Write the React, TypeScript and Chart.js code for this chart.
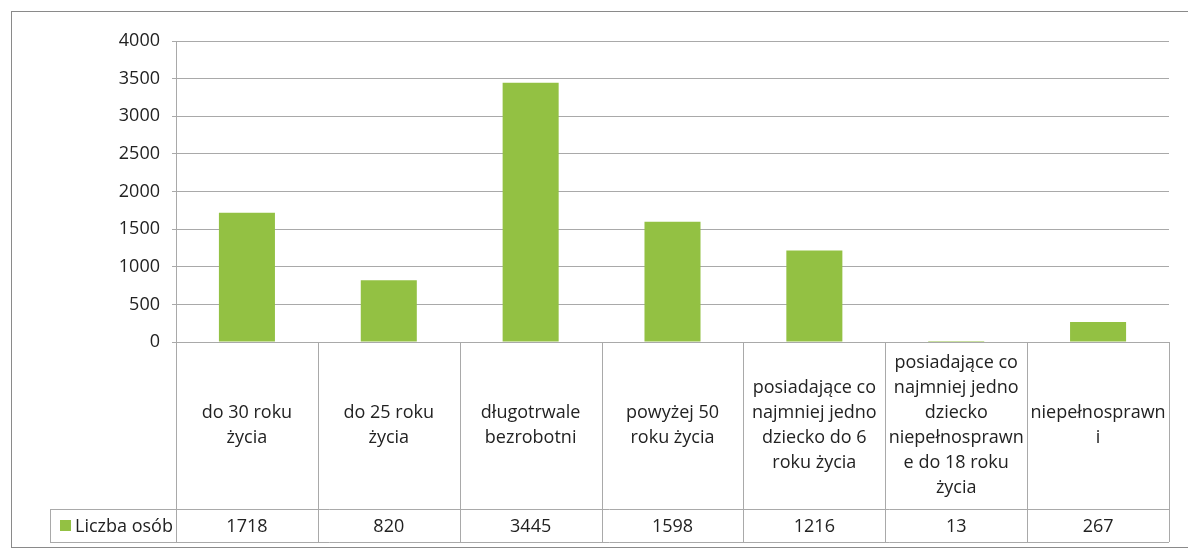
import React, { useEffect, useRef } from 'react';
import { Chart, registerables } from 'chart.js';

Chart.register(...registerables);

const categories: string[][] = [
  ['do 30 roku', 'życia'],
  ['do 25 roku', 'życia'],
  ['długotrwale', 'bezrobotni'],
  ['powyżej 50', 'roku życia'],
  ['posiadające co', 'najmniej jedno', 'dziecko do 6', 'roku życia'],
  ['posiadające co', 'najmniej jedno', 'dziecko', 'niepełnosprawn', 'e do 18 roku', 'życia'],
  ['niepełnosprawn', 'i'],
];
const seriesName = 'Liczba osób';
const values: number[] = [1718, 820, 3445, 1598, 1216, 13, 267];
const yMin = 0;
const yMax = 4000;
const yStep = 500;

const FONT = '"Open Sans", sans-serif';
const TEXT = '#222222';
const GRID = '#a9a9a9';
const BAR = '#93C143';

const tablePlugin = {
  id: 'dataTable',
  beforeDraw(chart: any) {
    const ctx = chart.ctx;
    ctx.save();
    ctx.fillStyle = '#ffffff';
    ctx.fillRect(0, 0, chart.width, chart.height);
    ctx.strokeStyle = '#8a8a8a';
    ctx.lineWidth = 1;
    ctx.strokeRect(11.5, 11.5, chart.width + 20, 536);
    ctx.restore();
  },
  afterDraw(chart: any) {
    const ctx = chart.ctx;
    const xs = chart.scales.x;
    const area = chart.chartArea;
    const labels = chart.data.labels as string[][];
    const data = chart.data.datasets[0].data as number[];
    const n = labels.length;
    const top = Math.round(area.bottom);
    const headerBottom = top + 167;
    const bottom = headerBottom + 33;
    const legendLeft = 50;
    const edges: number[] = [];
    for (let i = 0; i <= n; i++) {
      if (i === 0) edges.push(area.left);
      else if (i === n) edges.push(area.right);
      else edges.push((xs.getPixelForValue(i - 1) + xs.getPixelForValue(i)) / 2);
    }
    ctx.save();
    ctx.strokeStyle = GRID;
    ctx.lineWidth = 1;
    ctx.beginPath();
    edges.forEach((e) => {
      const px = Math.round(e) + 0.5;
      ctx.moveTo(px, top);
      ctx.lineTo(px, bottom);
    });
    ctx.moveTo(legendLeft, headerBottom + 0.5);
    ctx.lineTo(area.right, headerBottom + 0.5);
    ctx.moveTo(legendLeft, bottom + 0.5);
    ctx.lineTo(area.right, bottom + 0.5);
    ctx.moveTo(legendLeft + 0.5, headerBottom);
    ctx.lineTo(legendLeft + 0.5, bottom);
    ctx.stroke();

    ctx.fillStyle = TEXT;
    ctx.font = `18px ${FONT}`;
    ctx.textAlign = 'center';
    ctx.textBaseline = 'middle';
    const lh = 25;
    const hc = (top + headerBottom) / 2;
    labels.forEach((lines, i) => {
      const cx = xs.getPixelForValue(i);
      const start = hc - ((lines.length - 1) * lh) / 2;
      lines.forEach((ln, j) => ctx.fillText(ln, cx, start + j * lh));
      ctx.fillText(String(data[i]), cx, (headerBottom + bottom) / 2 + 1);
    });
    ctx.fillStyle = BAR;
    ctx.fillRect(60, 520, 11, 11);
    ctx.fillStyle = TEXT;
    ctx.textAlign = 'left';
    ctx.fillText(chart.data.datasets[0].label, 75, (headerBottom + bottom) / 2 + 1);
    ctx.restore();
  },
};

export default function App() {
  const ref = useRef<HTMLCanvasElement>(null);
  useEffect(() => {
    if (!ref.current) return;
    const chart = new Chart(ref.current, {
      type: 'bar',
      data: {
        labels: categories as any,
        datasets: [
          {
            label: seriesName,
            data: values,
            backgroundColor: BAR,
            borderWidth: 0,
            barPercentage: 0.395,
            categoryPercentage: 1,
          },
        ],
      },
      options: {
        responsive: false,
        animation: false,
        layout: { padding: { left: 0, right: 19, top: 41, bottom: 209 } },
        plugins: { legend: { display: false }, tooltip: { enabled: false } },
        scales: {
          x: { display: false },
          y: {
            min: yMin,
            max: yMax,
            ticks: {
              stepSize: yStep,
              color: TEXT,
              font: { family: FONT, size: 18 },
              padding: 12,
              callback: (v: any) => String(v),
            },
            grid: { color: GRID, lineWidth: 1, tickLength: 4 },
            border: { color: GRID },
            afterFit: (s: any) => {
              s.width = 176;
            },
          } as any,
        },
      },
      plugins: [tablePlugin],
    });
    return () => chart.destroy();
  }, []);
  return (
    <div style={{ position: 'absolute', left: 0, top: 0, width: 1188, height: 551, background: '#fff' }}>
      <canvas ref={ref} width={1188} height={551} />
    </div>
  );
}
